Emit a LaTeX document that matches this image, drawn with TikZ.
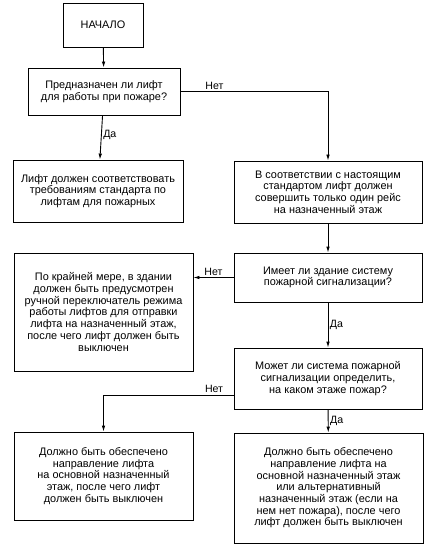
\documentclass[tikz,border=0pt]{standalone}
\usepackage{fontspec}
\setmainfont{Liberation Sans}
\usetikzlibrary{arrows.meta}

\begin{document}
\begin{tikzpicture}[x=1pt, y=-1pt, >={Latex[length=6pt, width=3.6pt]},
	box/.style={draw, line width=0.9pt, align=center, inner sep=2pt, font=\fontsize{10.9}{11.7}\selectfont},
	link/.style={line width=0.9pt, ->},
	lbl/.style={font=\fontsize{10.6}{12}\selectfont, inner sep=1.5pt}]
	\useasboundingbox (0,0) rectangle (437,556);
	%top
		\node [box, minimum width=80pt, minimum height=44pt] (start) at (103,25) {НАЧАЛО};
		\node [box, minimum width=152pt, minimum height=47pt] (purpose) at (104,91.5) {Предназначен ли лифт\\для работы при пожаре?};
	%left column
		\node [box, minimum width=170pt, minimum height=62pt] (firelift) at (98,191) {Лифт должен соответствовать\\требованиям стандарта по\\лифтам для пожарных};
		\node [box, minimum width=179pt, minimum height=118pt] (manual) at (103.5,312) {По крайней мере, в здании\\должен быть предусмотрен\\ручной переключатель режима\\работы лифтов для отправки\\лифта на назначенный этаж,\\после чего лифт должен быть\\выключен};
		\node [box, minimum width=179pt, minimum height=88pt] (mainfloor) at (103.5,476) {Должно быть обеспечено\\направление лифта\\на основной назначенный\\этаж, после чего лифт\\должен быть выключен};
	%right column
		\node [box, minimum width=188pt, minimum height=62pt] (onetrip) at (328,192) {В соответствии с настоящим\\стандартом лифт должен\\совершить только один рейс\\на назначенный этаж};
		\node [box, minimum width=188pt, minimum height=49pt] (alarm) at (328,277.5) {Имеет ли здание систему\\пожарной сигнализации?};
		\node [box, minimum width=188pt, minimum height=61pt] (floor) at (328,378.5) {Может ли система пожарной\\сигнализации определить,\\на каком этаже пожар?};
		\node [box, minimum width=189pt, minimum height=110pt] (altfloor) at (328.5,488) {Должно быть обеспечено\\направление лифта на\\основной назначенный этаж\\или альтернативный\\назначенный этаж (если на\\нем нет пожара), после чего\\лифт должен быть выключен};
	%arrows
		\draw [link] (start) -- (purpose);
		\draw [link] (purpose) -- node [lbl, right, pos=0.45] {Да} (firelift);
		\draw [link] (purpose.east) -- (purpose.east -| onetrip.north) node [lbl, above, pos=0.23] {Нет} -- (onetrip.north);
		\draw [link] (onetrip) -- (alarm);
		\draw [link] (alarm.west) -- node [lbl, above] {Нет} (manual.east |- alarm.west);
		\draw [link] (alarm) -- node [lbl, right] {Да} (floor);
		\coordinate (nofloor) at ([yshift=-16.5pt]floor.west);
		\draw [link] (nofloor) -- (nofloor -| mainfloor.north) node [lbl, above, pos=0.15] {Нет} -- (mainfloor.north);
		\draw [link] (floor) -- node [lbl, right] {Да} (altfloor);
\end{tikzpicture}
\end{document}
